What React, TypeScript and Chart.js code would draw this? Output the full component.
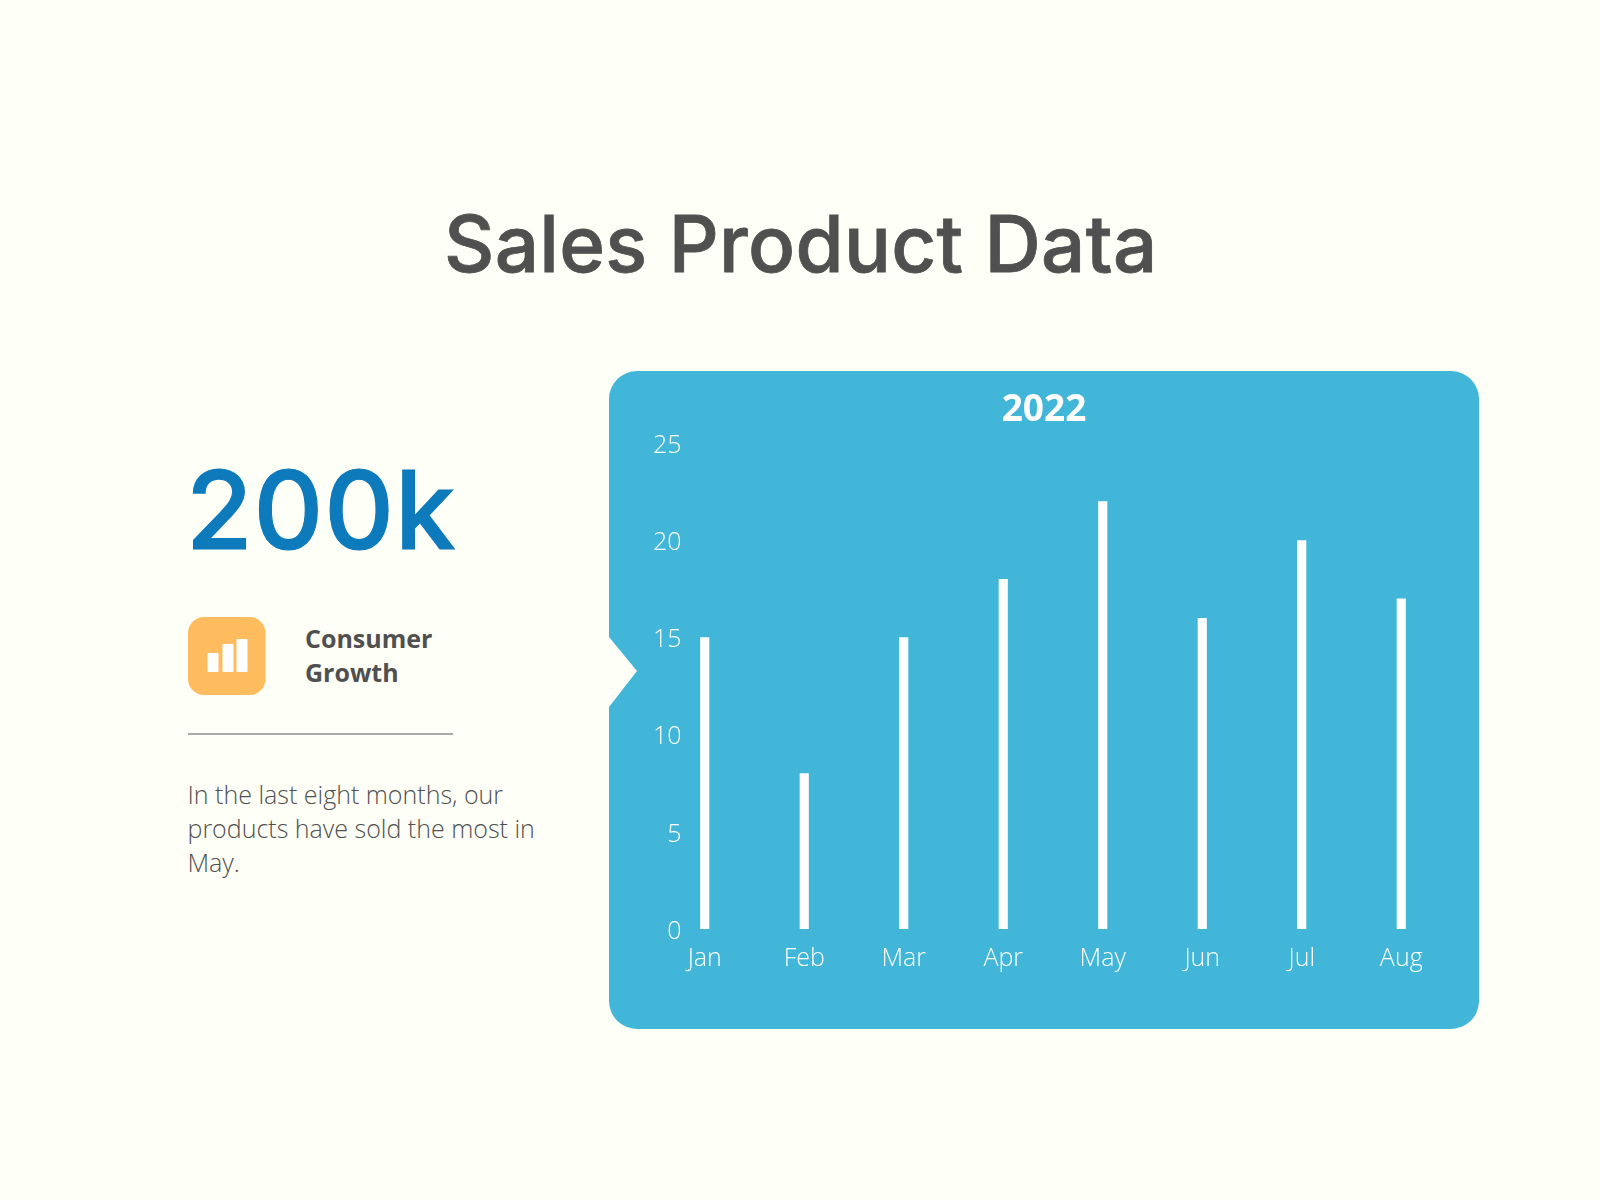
import React, { useEffect, useRef } from "react";
import { Chart, registerables } from "chart.js";

Chart.register(...registerables);

const categories = ["Jan", "Feb", "Mar", "Apr", "May", "Jun", "Jul", "Aug"];
const salesValues = [15, 8, 15, 18, 22, 16, 20, 17];
const yTicks = [0, 5, 10, 15, 20, 25];
const chartTitle = "2022";

const ink = "#505050";
const blue = "#0d7abc";

const text = (left: number, top: number, size: number, lineHeight: number, extra: React.CSSProperties = {}): React.CSSProperties => ({
  position: "absolute", left, top, fontSize: size, lineHeight: lineHeight + "px", whiteSpace: "nowrap", color: ink, ...extra,
});

export default function App() {
  const ref = useRef<HTMLCanvasElement | null>(null);
  useEffect(() => {
    document.body.style.margin = "0";
    const chart = new Chart(ref.current!, {
      type: "bar",
      data: {
        labels: categories,
        datasets: [{ data: salesValues, backgroundColor: "#ffffff", barThickness: 8.5, borderWidth: 0 }],
      },
      options: {
        animation: false,
        responsive: false,
        devicePixelRatio: 1,
        layout: { padding: { left: 28, right: 28, top: 0, bottom: 0 } },
        plugins: {
          legend: { display: false },
          tooltip: { enabled: false },
          title: {
            display: true,
            text: chartTitle,
            color: "#ffffff",
            font: { family: "'Open Sans'", weight: "bold", size: 37 },
            padding: { top: 17, bottom: 11 },
          },
        },
        scales: {
          x: {
            offset: true,
            grid: { display: false, drawTicks: false },
            border: { display: false },
            afterFit: (s: any) => { s.height = 100; },
            ticks: { color: "#ffffff", font: { family: "'Open Sans'", weight: 300, size: 25 }, padding: 15, maxRotation: 0 },
          },
          y: {
            min: 0,
            max: 25,
            grid: { display: false, drawTicks: false },
            border: { display: false },
            afterFit: (s: any) => { s.width = 18; },
            afterBuildTicks: (s: any) => { s.ticks = yTicks.map((value) => ({ value })); },
            ticks: { color: "#ffffff", font: { family: "'Open Sans'", weight: 300, size: 25 }, mirror: true, crossAlign: "far", padding: -2, labelOffset: 2.5 },
          },
        },
      },
    } as any);
    return () => chart.destroy();
  }, []);

  return (
    <div style={{ position: "relative", width: 1600, height: 1200, background: "#fefff6", overflow: "hidden", fontFamily: "'Open Sans'" }}>
      <div style={text(444, 190, 78, 108, { fontFamily: "Inter", fontWeight: 500, letterSpacing: 0.3, WebkitTextStroke: "0.8px " + ink })}>Sales Product Data</div>

      <div style={text(186, 440, 108, 140, { fontFamily: "Inter", fontWeight: 500, letterSpacing: 1, color: blue, WebkitTextStroke: "1.2px " + blue })}>200k</div>

      <svg style={{ position: "absolute", left: 187.5, top: 615.5 }} width={79} height={79} viewBox="0 0 79 79">
        <rect x="0" y="1" width="77.5" height="78" rx="16" fill="#ffbc5e" />
        <rect x="19.5" y="37" width="11" height="19" rx="1" fill="#ffffff" />
        <rect x="34.5" y="28" width="11" height="28" rx="1" fill="#ffffff" />
        <rect x="48.5" y="23" width="11" height="33" rx="1" fill="#ffffff" />
      </svg>
      <div style={text(305, 621, 25, 34, { fontWeight: 700 })}>Consumer<br />Growth</div>

      <div style={{ position: "absolute", left: 187.5, top: 733, width: 265, height: 1.5, background: "#aaaaaa" }} />

      <div style={text(187.5, 777, 25, 34, { fontWeight: 300 })}>
        In the last eight months, our<br />products have sold the most in<br />May.
      </div>

      <svg style={{ position: "absolute", left: 609, top: 371 }} width={870} height={658} viewBox="0 0 870 658">
        <path d="M28 0 H842 A28 28 0 0 1 870 28 V630 A28 28 0 0 1 842 658 H28 A28 28 0 0 1 0 630 V336 L28 300 L0 266 V28 A28 28 0 0 1 28 0 Z" fill="#41b6d8" />
      </svg>
      <canvas ref={ref} width={870} height={658} style={{ position: "absolute", left: 609, top: 371 }} />
    </div>
  );
}
